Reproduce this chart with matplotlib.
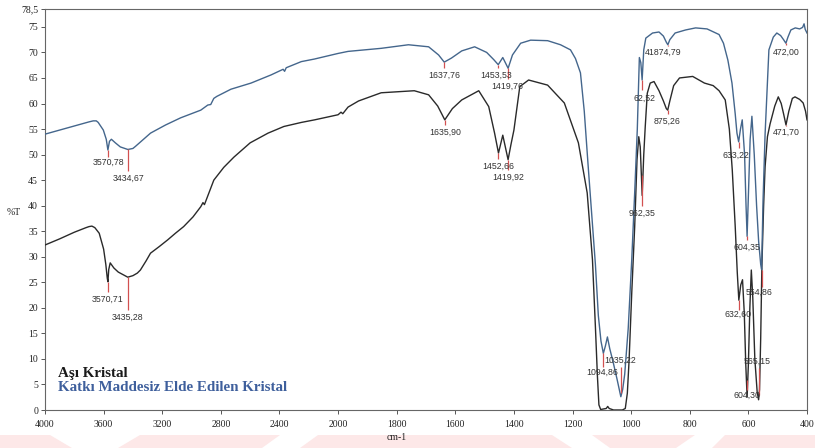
import numpy as np
import matplotlib
matplotlib.use("Agg")
import matplotlib.pyplot as plt
from matplotlib.patches import Polygon

# ---------------- data ----------------
# Upper curve: Katkı Maddesiz Elde Edilen Kristal (blue)
blue_wn = [4000, 3900, 3760, 3700, 3671, 3650, 3637, 3602, 3582, 3570.78, 3560, 3547, 3520, 3486,
           3434.67, 3400, 3383, 3328, 3280, 3177, 3074, 2937, 2889, 2869, 2848, 2827, 2731, 2594,
           2457, 2375, 2365, 2354, 2251, 2162, 2000, 1966, 1853, 1760, 1691, 1657, 1637.76, 1613,
           1578, 1534, 1493, 1469, 1453.53, 1438, 1419.76, 1405, 1377, 1343, 1285, 1241, 1207,
           1190, 1173, 1160, 1147, 1133, 1122, 1112, 1103, 1094.86, 1088, 1081, 1073, 1062, 1048,
           1035.22, 1029, 1022, 1010, 998, 988, 979, 972, 967, 962.52, 957, 950, 927, 905, 890,
           880, 874.79, 868, 850, 814, 780, 741, 700, 685, 670, 656, 645, 639, 633.22, 627, 621,
           613, 608, 604.35, 600, 594, 588, 580, 572, 565, 558, 554.86, 550, 543, 535, 530, 515,
           503, 490, 480, 472.00, 465, 455, 440, 425, 415, 410, 406, 400]
blue_T = [54.0, 54.8, 55.9, 56.4, 56.6, 56.6, 56.3, 54.8, 53.0, 50.9, 52.6, 53.0, 52.3, 51.5,
          51.0, 51.2, 51.6, 53.0, 54.2, 55.8, 57.2, 58.7, 59.7, 59.8, 61.0, 61.4, 62.8, 64.0,
          65.6, 66.7, 66.3, 67.0, 68.2, 68.7, 69.8, 70.2, 70.8, 71.5, 71.1, 69.5, 68.1, 68.9,
          70.3, 71.1, 70.0, 68.6, 67.6, 69.0, 66.9, 69.5, 71.8, 72.4, 72.3, 71.5, 70.5,
          68.8, 66.0, 58.5, 48.0, 37.0, 28.5, 18.5, 13.5, 11.1, 12.5, 14.3, 12.0, 9.5, 6.0,
          2.6, 4.0, 7.0, 16.0, 29.4, 42.5, 55.0, 69.0, 68.0, 64.6, 70.5, 72.8, 73.8, 74.0, 73.2,
          72.0, 71.5, 72.5, 73.8, 74.4, 74.8, 74.6, 73.5, 71.8, 68.5, 64.0, 58.0, 54.2, 52.5, 55.0, 56.8,
          50.0, 40.0, 34.0, 42.0, 53.0, 57.5, 50.0, 40.0, 33.0, 28.5, 27.5, 41.0, 54.0, 64.0, 70.5, 73.0,
          73.8, 73.3, 72.5, 71.8, 73.0, 74.4, 74.8, 74.6, 74.9, 75.6, 74.5, 73.8]

# Lower curve: Aşı Kristal (black)
black_wn = [4000, 3900, 3800, 3720, 3700, 3680, 3660, 3630, 3600, 3585, 3575, 3570.71, 3565, 3555,
            3530, 3500, 3435.28, 3400, 3370, 3349, 3310, 3280, 3220, 3163, 3110, 3054, 2990, 2937,
            2922, 2912, 2900, 2848, 2780, 2711, 2600, 2478, 2370, 2250, 2160, 2000, 1990, 1984,
            1966, 1930, 1853, 1740, 1691, 1660, 1635.90, 1610, 1578, 1520, 1486, 1466, 1452.66,
            1438, 1419.92, 1410, 1400, 1380, 1350, 1285, 1228, 1180, 1150, 1132, 1122, 1115, 1110,
            1104, 1085, 1080, 1075, 1060, 1030, 1020, 1013, 1007, 998, 988, 980, 974, 969, 962.35,
            957, 952, 945, 935, 922, 905, 890, 880, 875.26, 868, 855, 835, 790, 750, 720, 700, 679,
            665, 655, 645, 638, 632.60, 626, 620, 614, 609, 604.30, 600, 595, 590, 585, 578, 570,
            565.15, 562, 558, 554, 548, 543, 535, 526, 510, 498, 488, 480, 471.70, 462, 450, 441,
            425, 413, 405, 400]
black_T = [32.3, 33.5, 34.8, 35.7, 35.9, 36.0, 35.7, 34.6, 31.5, 28.5, 25.8, 25.1, 27.5, 28.8,
           27.8, 27.0, 26.0, 26.3, 26.8, 27.4, 29.2, 30.7, 32.0, 33.3, 34.6, 35.9, 37.8, 39.8,
           40.6, 40.2, 41.1, 45.0, 47.5, 49.5, 52.3, 54.2, 55.5, 56.3, 56.8, 57.8, 58.3, 58.0,
           59.3, 60.5, 62.1, 62.5, 61.7, 59.5, 56.8, 59.0, 60.7, 62.5, 59.4, 54.2, 50.3,
           53.8, 49.0, 52.0, 54.8, 63.3, 64.6, 63.6, 60.1, 52.3, 42.5, 29.4, 16.3, 6.5, 1.0,
           0.1, 0.3, 0.7, 0.3, 0.0, 0.0, 0.3, 3.3, 9.8, 22.9, 35.8, 49.0, 53.5, 51.5, 42.0,
           50.0, 55.4, 62.0, 64.0, 64.3, 62.5, 60.5, 59.0, 58.7, 60.5, 63.5, 65.0, 65.3, 64.0, 63.5,
           62.5, 60.7, 55.0, 47.0, 36.0, 27.0, 21.5, 24.5, 25.5, 19.0, 9.0, 2.5, 9.0, 20.0, 27.4,
           22.0, 10.0, 3.5, 2.0, 4.0, 14.0, 28.0, 40.0, 47.6, 53.5, 56.0, 59.5, 61.3, 60.0, 58.0,
           55.8, 58.5, 61.0, 61.3, 60.8, 60.1, 58.5, 56.8]

# peak annotations: text, marker wavenumber, marker top, marker bottom, text x (wn), text y (%T)
peak_text = ["3570,78", "3434,67", "3570,71", "3435,28", "1637,76", "1453,53", "1419,76",
             "1635,90", "1452,66", "1419,92", "41874,79", "62,52", "875,26", "633,22",
             "472,00", "471,70", "962,35", "1035,22", "1094,86", "554,86", "632,60",
             "565,15", "604,30", "604,35"]
peak_wn = [3570.78, 3434.67, 3570.71, 3435.28, 1637.76, 1453.53, 1419.76, 1635.90, 1452.66,
           1419.92, 874.79, 962.52, 875.26, 633.22, 472.00, 471.70, 962.35, 1035.22, 1094.86,
           554.86, 632.60, 565.15, 604.30, 604.35]
mark_top = [50.9, 51.0, 25.1, 26.0, 68.1, 67.6, 66.9, 56.8, 50.3, 49.0, 71.5, 64.6, 58.7, 52.5,
            71.8, 55.8, 46.0, 8.4, 11.1, 27.4, 21.5, 8.2, 5.9, 34.0]
mark_bot = [49.6, 46.8, 23.1, 19.6, 67.0, 67.0, 64.8, 55.8, 49.2, 47.0, 71.3, 62.6, 58.0, 51.3,
            71.4, 55.6, 40.0, 3.3, 8.4, 24.1, 19.6, 3.0, 3.9, 33.3]
text_x = [3568, 3431, 3575, 3438, 1639, 1462, 1421, 1636, 1452, 1421, 890, 955, 877, 641,
          472, 472, 962, 1037, 1098, 563, 635, 570, 604, 605]
text_y = [48.4, 45.4, 21.7, 18.2, 65.6, 65.6, 63.4, 54.4, 47.8, 45.6, 70.1, 61.1, 56.6, 49.9,
          70.1, 54.4, 38.6, 9.8, 7.4, 23.1, 18.8, 9.6, 2.9, 31.9]

x_ticks = [4000, 3600, 3200, 2800, 2400, 2000, 1800, 1600, 1400, 1200, 1000, 800, 600, 400]
y_ticks = [0, 5, 10, 15, 20, 25, 30, 35, 40, 45, 50, 55, 60, 65, 70, 75, 78.5]
y_tick_labels = ["0", "5", "10", "15", "20", "25", "30", "35", "40", "45", "50", "55", "60",
                 "65", "70", "75", "78,5"]

legend_labels = ["Aşı Kristal", "Katkı Maddesiz Elde Edilen Kristal"]

# ---------------- figure ----------------
W, H = 815, 448
fig = plt.figure(figsize=(W / 100, H / 100), dpi=100)
fig.patch.set_facecolor("white")

# faint pink watermark band at the bottom
pink = "#fde8e8"
bands = [[(0, 448), (0, 435), (50, 435), (72, 448)],
         [(118, 448), (140, 435), (280, 435), (262, 448)],
         [(300, 448), (318, 435), (552, 435), (572, 448)],
         [(610, 448), (592, 435), (695, 435), (676, 448)],
         [(712, 448), (725, 435), (815, 435), (815, 448)]]
for b in bands:
    pts = [(x / W, 1 - y / H) for x, y in b]
    fig.patches.append(Polygon(pts, closed=True, transform=fig.transFigure,
                               facecolor=pink, edgecolor="none", zorder=0))

ax_l, ax_r, ax_b, ax_t = 45, 807, 410, 9
ax = fig.add_axes([ax_l / W, 1 - ax_b / H, (ax_r - ax_l) / W, (ax_b - ax_t) / H])
ax.set_facecolor("none")


def fwd(x):
    x = np.asarray(x, dtype=float)
    return np.where(x <= 2000, x, 2000 + (x - 2000) / 2.0)


def inv(u):
    u = np.asarray(u, dtype=float)
    return np.where(u <= 2000, u, 2000 + (u - 2000) * 2.0)


ax.set_xscale("function", functions=(fwd, inv))
ax.set_xlim(4000, 400)
ax.set_ylim(0, 78.5)

blue = "#44668c"
black = "#2a2a2a"
ax.plot(black_wn, black_T, color=black, lw=1.0, zorder=3)
ax.plot(blue_wn, blue_T, color=blue, lw=1.0, zorder=3)

red = "#d25050"
for t, w, mt, mb, tx, ty in zip(peak_text, peak_wn, mark_top, mark_bot, text_x, text_y):
    ax.vlines(w, mb, mt, color=red, lw=0.9, zorder=4)
    ax.text(tx, ty, t, ha="center", va="center", fontsize=6.3,
            family="Liberation Sans", color="#333333", zorder=5)

ax.set_xticks(x_ticks)
ax.set_xticklabels([str(v) for v in x_ticks])
ax.set_yticks(y_ticks)
ax.set_yticklabels(y_tick_labels)
ax.minorticks_off()
ax.tick_params(axis="both", direction="out", length=3, width=0.7, colors="#555555",
               labelcolor="#222222", labelsize=7, pad=2)
for lab in ax.get_xticklabels() + ax.get_yticklabels():
    lab.set_family("Liberation Serif")
ax.tick_params(axis="x", pad=4)

for s in ax.spines.values():
    s.set_color("#666666")
    s.set_linewidth(0.8)

ax.text(0.017, 0.092, legend_labels[0], transform=ax.transAxes, ha="left", va="center",
        fontsize=10.8, fontweight="bold", family="Liberation Serif", color="#1a1a1a")
ax.text(0.017, 0.056, legend_labels[1], transform=ax.transAxes, ha="left", va="center",
        fontsize=10.8, fontweight="bold", family="Liberation Serif", color="#3e5f9c")

fig.text(14 / W, 1 - 212 / H, "%T", ha="center", va="center", fontsize=7,
         family="Liberation Serif", color="#222222")
fig.text(397 / W, 1 - 437 / H, "cm-1", ha="center", va="center", fontsize=7,
         family="Liberation Serif", color="#222222")

fig.savefig("out.png", dpi=100, facecolor="white")
